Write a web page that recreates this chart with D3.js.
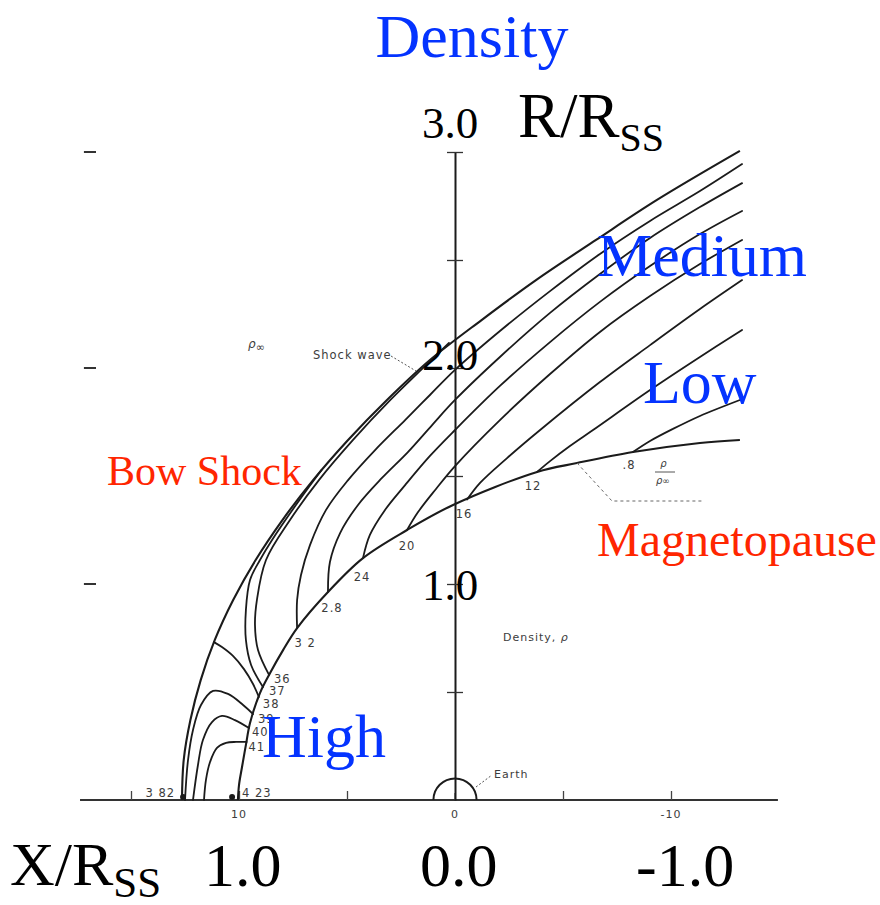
<!DOCTYPE html>
<html>
<head>
<meta charset="utf-8">
<script src="https://cdn.jsdelivr.net/npm/d3@7"></script>
<style>
  body { margin: 0; background: #fff; }
  svg { display: block; }
</style>
</head>
<body>
<svg id="chart" width="880" height="905"></svg>
<script>
// Coordinates are in units of the subsolar magnetopause distance R_SS.
// x is positive toward the Sun (to the left), y is distance from the Sun-Earth line.

const shockWave = [
  [1.264, 0.000], [1.256, 0.185], [1.225, 0.370], [1.177, 0.556], [1.112, 0.741],
  [1.027, 0.926], [0.923, 1.111], [0.799, 1.296], [0.657, 1.481], [0.495, 1.667],
  [0.315, 1.852], [0.116, 2.037], [-0.123, 2.222], [-0.375, 2.407], [-0.653, 2.593],
  [-0.935, 2.778], [-1.319, 3.005]
];

const magnetopause = [
  [1.005, 0.000], [1.000, 0.069], [0.986, 0.153], [0.968, 0.255], [0.949, 0.356],
  [0.903, 0.495], [0.856, 0.588], [0.796, 0.694], [0.731, 0.796], [0.588, 0.963],
  [0.426, 1.120], [0.222, 1.250], [0.009, 1.366], [-0.380, 1.519], [-0.565, 1.560],
  [-0.824, 1.611], [-1.134, 1.653], [-1.319, 1.667]
];

// Density contours (rho / rho_inf); each list starts on the magnetopause.
const contour32 = [
  [0.731, 0.796], [0.731, 0.926], [0.713, 1.042], [0.671, 1.181], [0.597, 1.343],
  [0.495, 1.481], [0.370, 1.620], [0.231, 1.759], [0.116, 1.875], [0.000, 1.991],
  [-0.208, 2.171], [-0.440, 2.356], [-0.671, 2.528], [-0.903, 2.681], [-1.134, 2.819],
  [-1.329, 2.944]
];
const contour28 = [
  [0.588, 0.963], [0.579, 1.102], [0.532, 1.236], [0.449, 1.366], [0.338, 1.491],
  [0.218, 1.611], [0.106, 1.736], [0.000, 1.852], [-0.208, 2.051], [-0.440, 2.255],
  [-0.671, 2.435], [-0.903, 2.602], [-1.134, 2.745], [-1.329, 2.856]
];
const contour24 = [
  [0.426, 1.120], [0.394, 1.227], [0.324, 1.343], [0.231, 1.458], [0.116, 1.593],
  [0.000, 1.713], [-0.208, 1.917], [-0.440, 2.120], [-0.671, 2.306], [-0.903, 2.472],
  [-1.134, 2.620], [-1.329, 2.727]
];
const contour20 = [
  [0.222, 1.250], [0.171, 1.333], [0.088, 1.440], [0.000, 1.546], [-0.208, 1.759],
  [-0.440, 1.972], [-0.671, 2.167], [-0.903, 2.333], [-1.134, 2.481], [-1.329, 2.593]
];
const contour16 = [
  [-0.056, 1.391], [-0.116, 1.468], [-0.241, 1.583], [-0.394, 1.713], [-0.671, 1.935],
  [-0.903, 2.106], [-1.134, 2.273], [-1.329, 2.407]
];
const contour12 = [
  [-0.380, 1.519], [-0.440, 1.569], [-0.532, 1.639], [-0.639, 1.713], [-0.903, 1.898],
  [-1.134, 2.051], [-1.329, 2.176]
];
const contour08 = [
  [-0.824, 1.611], [-0.903, 1.662], [-1.009, 1.718], [-1.134, 1.778], [-1.319, 1.852]
];
const contour36 = [
  [0.861, 0.579], [0.912, 0.694], [0.926, 0.810], [0.917, 0.926], [0.875, 1.111],
  [0.764, 1.296], [0.630, 1.481], [0.472, 1.667], [0.299, 1.852], [0.157, 1.991],
  [0.028, 2.116]
];
const contour37 = [
  [0.889, 0.523], [0.944, 0.625], [0.968, 0.741], [0.968, 0.880], [0.949, 1.019],
  [0.903, 1.111], [0.847, 1.204], [0.720, 1.389], [0.618, 1.528]
];
const contour38 = [
  [0.908, 0.477], [0.935, 0.537], [0.977, 0.606], [1.028, 0.667], [1.079, 0.708],
  [1.116, 0.731]
];
const contour39 = [
  [0.935, 0.398], [0.981, 0.440], [1.051, 0.491], [1.120, 0.505], [1.176, 0.440],
  [1.213, 0.324], [1.236, 0.185], [1.250, 0.000]
];
const contour40 = [
  [0.954, 0.333], [1.019, 0.370], [1.079, 0.389], [1.125, 0.361], [1.167, 0.278],
  [1.190, 0.162], [1.213, 0.000]
];
const contour41 = [
  [0.965, 0.269], [1.014, 0.269], [1.060, 0.264], [1.102, 0.241], [1.134, 0.176],
  [1.153, 0.093], [1.162, 0.000]
];

const flankContours = [contour32, contour28, contour24, contour20, contour16, contour12, contour08];
const flankLabels = ["3 2", "2.8", "24", "20", "16", "12", ".8"];
const noseContours = [contour36, contour37, contour38, contour39, contour40, contour41];
const noseLabels = ["36", "37", "38", "39", "40", "41"];

// Density values on the stagnation line: just behind the shock and at the nose.
const stagnationX = [1.259, 1.032];
const stagnationLabels = ["3 82", "4 23"];

const radiusTicks = [0.5, 1.0, 1.5, 2.0, 2.5, 3.0];
const radiusLabels = ["3.0", "2.0", "1.0"];
const radiusLabelValues = [3.0, 2.0, 1.0];
const frameTicks = [1.0, 2.0, 3.0];
const xTicks = [1.5, 1.0, 0.5, -0.5, -1.0];
const earthRadiiLabels = ["10", "0", "-10"];
const earthRadiiValues = [1.0, 0.0, -1.0];
const xLabels = ["1.0", "0.0", "-1.0"];
const xLabelValues = [1.0, 0.0, -1.0];
const earthRadius = 0.1;

// ---------------------------------------------------------------
const X = d3.scaleLinear().domain([1, -1]).range([239, 671]);
const Y = d3.scaleLinear().domain([0, 3]).range([800, 152]);

const svg = d3.select("#chart");
const ink = "#1b1b1b";
const blue = "#0433FF";
const red = "#FF2600";
const serif = "'Liberation Serif', 'Times New Roman', serif";
const lettering = "'DejaVu Sans', 'Liberation Sans', sans-serif";

const curve = d3.line()
  .x(d => X(d[0]))
  .y(d => Y(d[1]))
  .curve(d3.curveCatmullRom.alpha(0.5));

const plot = svg.append("g");

// Sun-Earth line
plot.append("line")
  .attr("x1", X(1.736)).attr("x2", X(-1.495))
  .attr("y1", Y(0)).attr("y2", Y(0))
  .attr("stroke", "#333").attr("stroke-width", 2.2);

// ticks along the Sun-Earth line
plot.append("g")
  .attr("transform", `translate(0,${Y(0)})`)
  .call(d3.axisTop(X).tickValues(xTicks).tickSize(9).tickSizeOuter(0).tickFormat(""))
  .call(g => g.select(".domain").remove())
  .call(g => g.selectAll(".tick line").attr("stroke", "#444").attr("stroke-width", 1.3));

plot.append("line")
  .attr("x1", X(0)).attr("x2", X(0))
  .attr("y1", Y(0)).attr("y2", Y(0) - 7)
  .attr("stroke", "#555").attr("stroke-width", 1.2);

// vertical axis with ticks on both sides
const vAxis = plot.append("g").attr("transform", `translate(${X(0)},0)`);
vAxis.call(d3.axisLeft(Y).tickValues(radiusTicks).tickSize(8).tickSizeOuter(0).tickFormat(""))
  .call(g => g.select(".domain").attr("stroke", ink).attr("stroke-width", 2))
  .call(g => g.selectAll(".tick line").attr("stroke", "#333").attr("stroke-width", 1.3));
vAxis.append("g")
  .call(d3.axisRight(Y).tickValues(radiusTicks).tickSize(8).tickSizeOuter(0).tickFormat(""))
  .call(g => g.select(".domain").remove())
  .call(g => g.selectAll(".tick line").attr("stroke", "#333").attr("stroke-width", 1.3));

// left frame marks
plot.selectAll(".frame-tick").data(frameTicks).join("line")
  .attr("class", "frame-tick")
  .attr("x1", X(1.718)).attr("x2", X(1.662))
  .attr("y1", d => Y(d)).attr("y2", d => Y(d))
  .attr("stroke", "#333").attr("stroke-width", 2);

// Earth (half disc outline on the Sun-Earth line)
plot.selectAll(".earth").data([earthRadius]).join("path")
  .attr("class", "earth")
  .attr("d", r => {
    const rx = X(0) - X(r);
    return `M${X(0) - rx},${Y(0)} A${rx},${rx} 0 0 1 ${X(0) + rx},${Y(0)}`;
  })
  .attr("fill", "none").attr("stroke", ink).attr("stroke-width", 2);

// contours, magnetopause and shock
const allContours = flankContours.concat(noseContours);
plot.selectAll(".contour").data(allContours).join("path")
  .attr("class", "contour")
  .attr("d", curve)
  .attr("fill", "none").attr("stroke", ink).attr("stroke-width", 1.8)
  .attr("stroke-linecap", "round");

plot.append("path").datum(magnetopause)
  .attr("d", curve)
  .attr("fill", "none").attr("stroke", ink).attr("stroke-width", 2.1);

plot.append("path").datum(shockWave)
  .attr("d", curve)
  .attr("fill", "none").attr("stroke", ink).attr("stroke-width", 2.1);

// stagnation-line markers
plot.selectAll(".stag").data(stagnationX).join("circle")
  .attr("class", "stag")
  .attr("cx", d => X(d)).attr("cy", Y(0) - 3).attr("r", 3).attr("fill", ink);

// ---------------------------------------------------------------
// small original lettering
const small = plot.append("g")
  .attr("font-family", lettering).attr("font-size", 11.5)
  .attr("fill", "#3c3c3c").attr("letter-spacing", 1);

const flankNudge = [[8, 19], [4, 20], [-1, 23], [0, 20], [-3, 18], [-4, 18], [-4, 17]];
small.selectAll(".flank-label").data(flankContours).join("text")
  .attr("class", "flank-label")
  .attr("x", (d, i) => X(d[0][0]) + flankNudge[i][0])
  .attr("y", (d, i) => Y(d[0][1]) + flankNudge[i][1])
  .attr("text-anchor", "middle")
  .text((d, i) => flankLabels[i]);

const noseNudge = [[5, 8], [6, 8], [4, 11], [5, 9], [3, 8], [2, 9]];
small.selectAll(".nose-label").data(noseContours).join("text")
  .attr("class", "nose-label")
  .attr("x", (d, i) => X(d[0][0]) + noseNudge[i][0])
  .attr("y", (d, i) => Y(d[0][1]) + noseNudge[i][1])
  .text((d, i) => noseLabels[i]);

small.append("text")
  .attr("x", X(stagnationX[0]) - 8).attr("y", Y(0) - 3)
  .attr("text-anchor", "end").text(stagnationLabels[0]);
small.append("text")
  .attr("x", X(stagnationX[1]) + 10).attr("y", Y(0) - 3)
  .text(stagnationLabels[1]);

small.selectAll(".re-label").data(earthRadiiValues).join("text")
  .attr("class", "re-label")
  .attr("x", d => X(d)).attr("y", Y(0) + 18)
  .attr("text-anchor", "middle").attr("font-size", 11)
  .text((d, i) => earthRadiiLabels[i]);

small.append("text").attr("x", 313).attr("y", 359).text("Shock wave");
small.append("path")
  .attr("d", "M391,356 L416,371")
  .attr("stroke", "#555").attr("stroke-width", 1).attr("stroke-dasharray", "2,2").attr("fill", "none");

const rhoInf = small.append("text").attr("x", 248).attr("y", 348).attr("font-size", 12)
  .attr("font-style", "italic").attr("letter-spacing", 0);
rhoInf.append("tspan").text("ρ");
rhoInf.append("tspan").attr("dy", 3).attr("font-size", 11).attr("font-style", "normal").text("∞");

const densityNote = small.append("text").attr("x", 503).attr("y", 641).attr("font-size", 11);
densityNote.append("tspan").text("Density, ");
densityNote.append("tspan").attr("font-style", "italic").text("ρ");

small.append("text").attr("x", 494).attr("y", 778).attr("font-size", 11).text("Earth");
small.append("path")
  .attr("d", "M476,787 L492,775")
  .attr("stroke", "#555").attr("stroke-width", 1).attr("stroke-dasharray", "2,2").attr("fill", "none");

// rho / rho_inf key near the magnetopause
small.append("text").attr("x", 664).attr("y", 467).attr("font-size", 10)
  .attr("font-style", "italic").attr("text-anchor", "middle").text("ρ");
small.append("line").attr("x1", 655).attr("x2", 675).attr("y1", 472).attr("y2", 472)
  .attr("stroke", "#555").attr("stroke-width", 1);
const rhoKey = small.append("text").attr("x", 656).attr("y", 484).attr("font-size", 10)
  .attr("font-style", "italic").attr("letter-spacing", 0);
rhoKey.append("tspan").text("ρ");
rhoKey.append("tspan").attr("font-size", 9).attr("font-style", "normal").text("∞");
small.append("path")
  .attr("d", `M${X(-0.565)},${Y(1.560)} L612,501 L702,501`)
  .attr("stroke", "#666").attr("stroke-width", 1).attr("stroke-dasharray", "3,3").attr("fill", "none");

// ---------------------------------------------------------------
// large annotation text
const big = svg.append("g").attr("font-family", serif);

const rNudge = [-14, 2, 16];
big.selectAll(".r-label").data(radiusLabelValues).join("text")
  .attr("class", "r-label")
  .attr("x", X(0) - 33).attr("y", (d, i) => Y(d) + rNudge[i])
  .attr("font-size", 45).attr("fill", "#000")
  .text((d, i) => radiusLabels[i]);

big.selectAll(".x-label").data(xLabelValues).join("text")
  .attr("class", "x-label")
  .attr("x", d => X(d) - 35).attr("y", 886)
  .attr("font-size", 62).attr("fill", "#000")
  .text((d, i) => xLabels[i]);

const rTitle = big.append("text").attr("x", 518).attr("y", 137).attr("font-size", 63).attr("fill", "#000");
rTitle.append("tspan").text("R/R");
rTitle.append("tspan").attr("font-size", 40).attr("dy", 14).text("SS");

const xTitle = big.append("text").attr("x", 10).attr("y", 885).attr("font-size", 62).attr("fill", "#000");
xTitle.append("tspan").text("X/R");
xTitle.append("tspan").attr("font-size", 43).attr("dy", 12).text("SS");

big.append("text").attr("x", 472).attr("y", 57).attr("text-anchor", "middle")
  .attr("font-size", 62).attr("fill", blue).text("Density");
big.append("text").attr("x", 597).attr("y", 276).attr("font-size", 62).attr("fill", blue).text("Medium");
big.append("text").attr("x", 643).attr("y", 403).attr("font-size", 62).attr("fill", blue).text("Low");
big.append("text").attr("x", 262).attr("y", 757).attr("font-size", 62).attr("fill", blue).text("High");
big.append("text").attr("x", 107).attr("y", 485).attr("font-size", 42).attr("fill", red).text("Bow Shock");
big.append("text").attr("x", 597).attr("y", 556).attr("font-size", 48).attr("fill", red).text("Magnetopause");
</script>
</body>
</html>
